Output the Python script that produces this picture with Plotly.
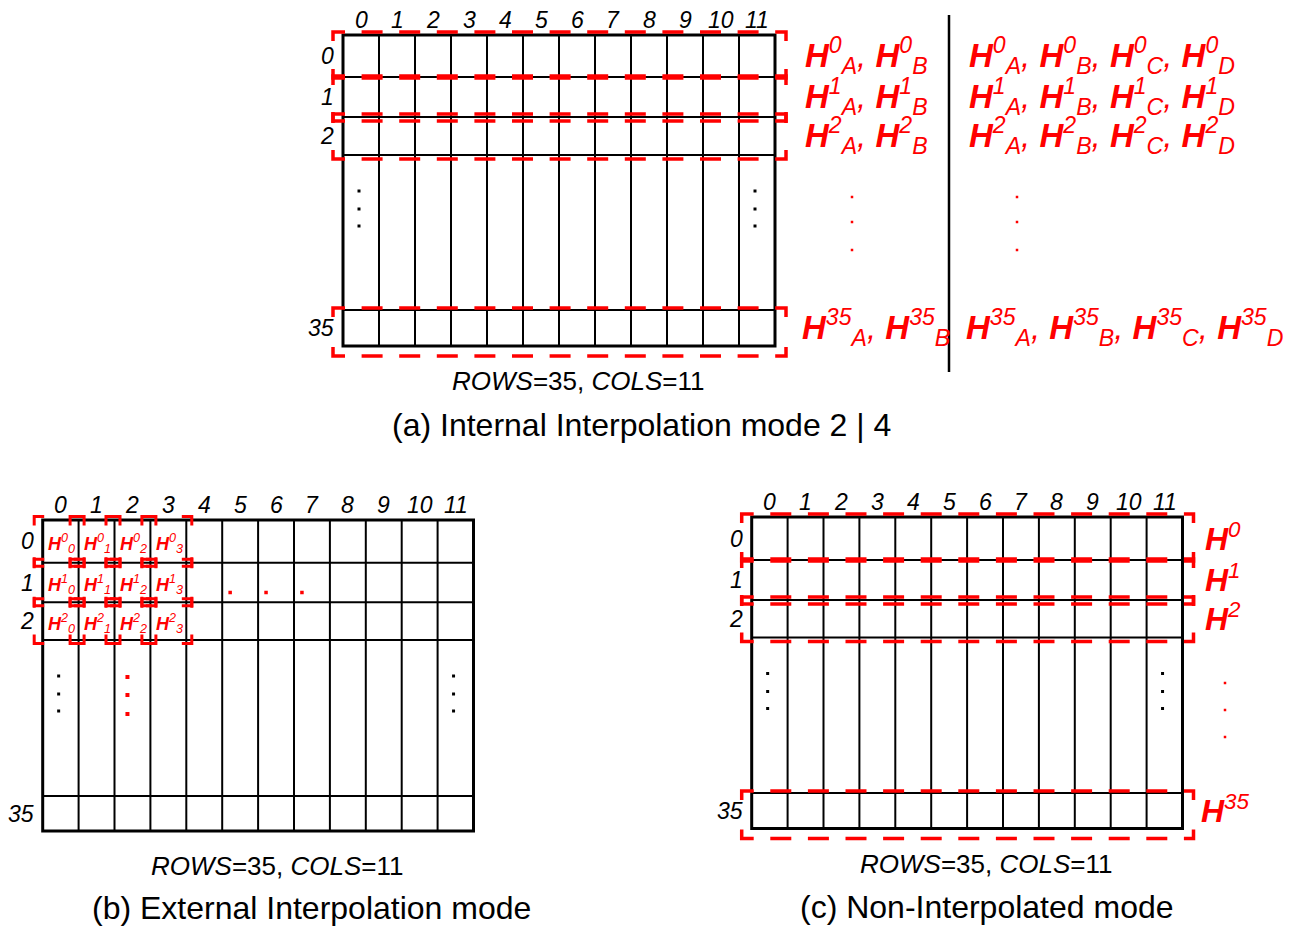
import plotly.graph_objects as go

FONT = "Liberation Sans, Arial, sans-serif"
RED = "#ff0000"

# ---- content -------------------------------------------------------------
COL_LABELS = ["0", "1", "2", "3", "4", "5", "6", "7", "8", "9", "10", "11"]
ROW_LABELS = ["0", "1", "2", "35"]
H_INDEX = ["0", "1", "2", "35"]
MODE2_SUBS = ["A", "B"]
MODE4_SUBS = ["A", "B", "C", "D"]
EXT_ROWS = ["0", "1", "2"]
EXT_COLS = ["0", "1", "2", "3"]
ROWS_VAL = 35
COLS_VAL = 11
CAPTIONS = {
    "a": "(a) Internal Interpolation mode 2 | 4",
    "b": "(b) External Interpolation mode",
    "c": "(c) Non-Interpolated mode",
}

# ---- geometry (page pixels) ----------------------------------------------
# left edge, column width, edges of rows 0..2, edges of the last row
GRID = {
    "a": dict(left=343, cw=36, rows=[35, 77, 117, 155], last=[310, 346]),
    "b": dict(left=42.7, cw=35.9, rows=[520, 562.7, 602.3, 640], last=[796, 831]),
    "c": dict(left=751.7, cw=35.9, rows=[517, 560, 600, 637.5], last=[793, 828.5]),
}
CAPTION_X = {"a": 641, "b": 311, "c": 987}
CAPTION_DY = {"a": 79, "b": 77, "c": 78}
BOX_PAD_TOP = [3, 1, 3, 2]
BOX_PAD_BOT = [1, 4, 4, 10]


def row_spans(g):
    r = g["rows"]
    return [(r[0], r[1]), (r[1], r[2]), (r[2], r[3]), tuple(g["last"])]


def col_center(g, i):
    return g["left"] + (i + 0.5) * g["cw"]


shapes = []
annotations = []
traces = []


def line(x0, y0, x1, y1, w, color="black"):
    return dict(type="line", x0=x0, y0=y0, x1=x1, y1=y1,
                line=dict(color=color, width=w), layer="above")


def text(x, y, s, size, color="black", xanchor="center", italic=False):
    annotations.append(dict(
        x=x, y=y, text=s, showarrow=False, xanchor=xanchor, yanchor="middle",
        font=dict(family=FONT, size=size, color=color,
                  style="italic" if italic else "normal")))


def dots(xs, ys, color, size):
    traces.append(go.Scatter(x=xs, y=ys, mode="markers", hoverinfo="skip",
                             marker=dict(symbol="square", color=color, size=size,
                                         line=dict(width=0))))


def draw_grid(key):
    g = GRID[key]
    x0 = g["left"]
    x1 = x0 + 12 * g["cw"]
    top, bot = g["rows"][0], g["last"][1]
    for k in range(1, 12):
        x = x0 + k * g["cw"]
        shapes.append(line(x, top, x, bot, 2))
    for y in g["rows"][1:] + [g["last"][0]]:
        shapes.append(line(x0, y, x1, y, 2))
    shapes.append(dict(type="rect", x0=x0, y0=top, x1=x1, y1=bot, layer="above",
                       line=dict(color="black", width=3)))
    for i, lab in enumerate(COL_LABELS):
        text(col_center(g, i), top - 15, lab, 23, italic=True)
    for (ya, yb), lab in zip(row_spans(g), ROW_LABELS):
        text(x0 - 7, (ya + yb) / 2, lab, 23, xanchor="right", italic=True)
    # vertical ellipsis in the first and last column
    gap = g["rows"][3]
    for i in (0, 11):
        cx = col_center(g, i) - 2
        dots([cx] * 3, [gap + 36, gap + 54, gap + 71], "black", 3)
    text((x0 + x1) / 2 + 19, bot + 35,
         f"<i>ROWS</i>={ROWS_VAL}, <i>COLS</i>={COLS_VAL}", 26)
    text(CAPTION_X[key], bot + CAPTION_DY[key], CAPTIONS[key], 32)


def dashed_row_boxes(key):
    g = GRID[key]
    bx0 = g["left"] - 10
    bx1 = g["left"] + 12 * g["cw"] + 11
    for i, (ya, yb) in enumerate(row_spans(g)):
        y0 = ya - BOX_PAD_TOP[i]
        y1 = yb + BOX_PAD_BOT[i]
        for ye, s in ((y0, 1), (y1, -1)):
            path = (f"M{bx0},{ye + 9 * s} L{bx0},{ye} L{bx1},{ye} "
                    f"L{bx1},{ye + 9 * s}")
            shapes.append(dict(type="path", path=path, layer="above",
                               line=dict(color=RED, width=3.5, dash="21px,16.6px")))


def h_label(h, subs):
    parts = [f"<b>H</b><sup>{h}</sup><sub>{s}</sub>" for s in subs]
    return ", ".join(parts)


# ---- panel (a) -----------------------------------------------------------
draw_grid("a")
dashed_row_boxes("a")
ga = GRID["a"]
for (ya, yb), h in zip(row_spans(ga), H_INDEX):
    yc = (ya + yb) / 2 - 1
    text(803 if h != "35" else 800, yc, h_label(h, MODE2_SUBS), 33, RED,
         xanchor="left", italic=True)
    text(967 if h != "35" else 964, yc, h_label(h, MODE4_SUBS), 33, RED,
         xanchor="left", italic=True)
gap_a = ga["rows"][3]
for x in (852, 1017):
    dots([x] * 3, [gap_a + 42, gap_a + 67, gap_a + 95], RED, 2.5)
shapes.append(line(949, 15, 949, 372, 2.5))

# ---- panel (b) -----------------------------------------------------------
draw_grid("b")
gb = GRID["b"]
arm_x, arm_y = 10, 9
for r, rl in enumerate(EXT_ROWS):
    for c, cl in enumerate(EXT_COLS):
        x0 = gb["left"] + c * gb["cw"] - 8.5
        x1 = gb["left"] + (c + 1) * gb["cw"] + 5.5
        y0 = gb["rows"][r] - 3.5
        y1 = gb["rows"][r + 1] + 3.5
        path = (f"M{x0},{y0 + arm_y} L{x0},{y0} L{x0 + arm_x},{y0} "
                f"M{x1 - arm_x},{y0} L{x1},{y0} L{x1},{y0 + arm_y} "
                f"M{x0},{y1 - arm_y} L{x0},{y1} L{x0 + arm_x},{y1} "
                f"M{x1 - arm_x},{y1} L{x1},{y1} L{x1},{y1 - arm_y}")
        shapes.append(dict(type="path", path=path, layer="above",
                           line=dict(color=RED, width=3)))
        text(col_center(gb, c) + 1, (gb["rows"][r] + gb["rows"][r + 1]) / 2 + 2,
             f"<b>H</b><sup>{rl}</sup><sub>{cl}</sub>", 18, RED, italic=True)
gap_b = gb["rows"][3]
dots([col_center(gb, 2) - 5] * 3, [gap_b + 37, gap_b + 55, gap_b + 74], RED, 4)
yr1 = (gb["rows"][1] + gb["rows"][2]) / 2 + 10
dots([col_center(gb, i) - 10 for i in (5, 6, 7)], [yr1] * 3, RED, 3.5)

# ---- panel (c) -----------------------------------------------------------
draw_grid("c")
dashed_row_boxes("c")
gc = GRID["c"]
for (ya, yb), h in zip(row_spans(gc), H_INDEX):
    text(1203 if h != "35" else 1199, (ya + yb) / 2 - 2, f"<b>H</b><sup>{h}</sup>",
         32, RED, xanchor="left", italic=True)
gap_c = gc["rows"][3]
dots([1225] * 3, [gap_c + 45.5, gap_c + 72.5, gap_c + 99.5], RED, 2.5)

fig = go.Figure(traces)
fig.update_layout(
    width=1304, height=926,
    margin=dict(l=0, r=0, t=0, b=0),
    paper_bgcolor="white", plot_bgcolor="white",
    showlegend=False,
    xaxis=dict(range=[0, 1304], visible=False, fixedrange=True),
    yaxis=dict(range=[926, 0], visible=False, fixedrange=True),
    shapes=shapes,
    annotations=annotations,
    font=dict(family=FONT),
)
fig.write_html("out.html", config={"displayModeBar": False},
               post_script="document.body.style.margin='0';")
